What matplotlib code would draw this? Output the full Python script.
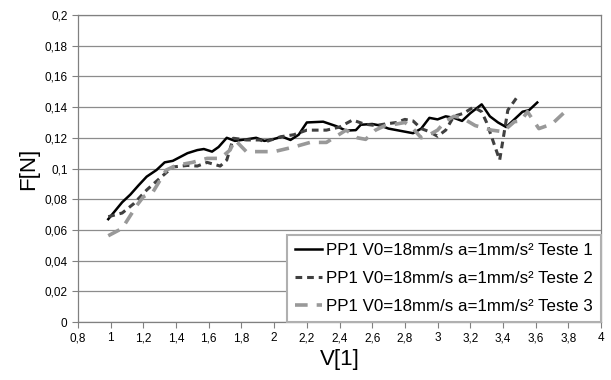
import matplotlib
matplotlib.use("Agg")
import matplotlib.pyplot as plt
from matplotlib.ticker import FuncFormatter, MultipleLocator

plt.rcParams['font.family'] = ['Liberation Sans', 'DejaVu Sans']

# Teste 1 (preto, linha cheia)
v1 = [0.985, 1.07, 1.12, 1.17, 1.22, 1.28, 1.33, 1.38, 1.47, 1.53, 1.57, 1.62, 1.66,
      1.71, 1.76, 1.83, 1.89, 1.94, 1.99, 2.05, 2.10, 2.15, 2.20, 2.30, 2.38, 2.44,
      2.50, 2.53, 2.60, 2.65, 2.70, 2.75, 2.80, 2.85, 2.90, 2.95, 3.00, 3.05, 3.10,
      3.15, 3.20, 3.27, 3.32, 3.37, 3.42, 3.47, 3.52, 3.56, 3.61]
f1 = [0.067, 0.078, 0.083, 0.089, 0.0947, 0.099, 0.104, 0.105, 0.110, 0.112, 0.1127, 0.111, 0.114,
      0.120, 0.118, 0.119, 0.120, 0.118, 0.119, 0.1207, 0.1186, 0.122, 0.130, 0.1305, 0.1276, 0.1247,
      0.125, 0.1285, 0.129, 0.128, 0.126, 0.125, 0.124, 0.123, 0.126, 0.133, 0.132, 0.134, 0.133,
      0.131, 0.136, 0.1418, 0.134, 0.130, 0.127, 0.132, 0.137, 0.138, 0.143]

# Teste 2 (cinza escuro, tracejado)
v2 = [0.985, 1.07, 1.14, 1.22, 1.30, 1.38, 1.47, 1.53, 1.59, 1.67, 1.71, 1.75, 1.83,
      1.91, 1.95, 2.04, 2.12, 2.20, 2.32, 2.40, 2.48, 2.55, 2.62, 2.68, 2.75, 2.80,
      2.85, 2.90, 2.95, 3.00, 3.05, 3.10, 3.16, 3.22, 3.27, 3.30, 3.38, 3.43, 3.49]
f2 = [0.0686, 0.071, 0.077, 0.086, 0.0936, 0.101, 0.102, 0.1016, 0.104, 0.1016, 0.1055, 0.1197, 0.1186,
      0.1186, 0.1175, 0.1207, 0.122, 0.125, 0.125, 0.127, 0.1316, 0.129, 0.128, 0.129, 0.130, 0.132,
      0.131, 0.126, 0.124, 0.121, 0.125, 0.134, 0.136, 0.140, 0.137, 0.130, 0.1055, 0.138, 0.147]

# Teste 3 (cinza claro, tracejado longo)
v3 = [0.985, 1.07, 1.16, 1.20, 1.26, 1.34, 1.40, 1.50, 1.59, 1.67, 1.73, 1.76, 1.83,
      1.95, 2.00, 2.12, 2.22, 2.32, 2.44, 2.51, 2.56, 2.62, 2.68, 2.75, 2.80, 2.85,
      2.90, 2.95, 3.00, 3.05, 3.10, 3.15, 3.23, 3.33, 3.40, 3.47, 3.51, 3.55, 3.62,
      3.70, 3.75, 3.81]
f3 = [0.0562, 0.061, 0.076, 0.0816, 0.085, 0.099, 0.102, 0.104, 0.1066, 0.1066, 0.112, 0.1186, 0.111,
      0.111, 0.111, 0.114, 0.117, 0.117, 0.125, 0.120, 0.119, 0.125, 0.128, 0.129, 0.130, 0.126,
      0.120, 0.122, 0.125, 0.131, 0.134, 0.133, 0.128, 0.125, 0.124, 0.1305, 0.131, 0.137, 0.126,
      0.129, 0.134, 0.140]

labels = ["PP1 V0=18mm/s a=1mm/s² Teste 1",
          "PP1 V0=18mm/s a=1mm/s² Teste 2",
          "PP1 V0=18mm/s a=1mm/s² Teste 3"]

fig = plt.figure(figsize=(6.11, 3.80), dpi=100)
ax = fig.add_axes([0.1277, 0.1526, 0.8559, 0.8079])

ax.plot(v1, f1, color='black', lw=1.8, label=labels[0])
ax.plot(v2, f2, color='#404040', lw=2.2, dashes=(2.2, 1.6), label=labels[1])
ax.plot(v3, f3, color='#999999', lw=2.6, dashes=(3.5, 2.5), label=labels[2])

ax.set_xlim(0.8, 4.0)
ax.set_ylim(0, 0.2)
ax.xaxis.set_major_locator(MultipleLocator(0.2))
ax.yaxis.set_major_locator(MultipleLocator(0.02))

def comma(x, pos):
    s = f"{x:.2f}".rstrip('0').rstrip('.')
    return s.replace('.', ',')

ax.xaxis.set_major_formatter(FuncFormatter(comma))
ax.yaxis.set_major_formatter(FuncFormatter(comma))
ax.tick_params(labelsize=8.5, direction='out', length=4, color='#808080', width=0.8)
ax.grid(axis='y', color='#8c8c8c', lw=0.9)
ax.set_axisbelow(True)
for s in ax.spines.values():
    s.set_color('#808080')
    s.set_linewidth(0.9)

ax.set_xlabel("V[1]", fontsize=16, labelpad=3)
ax.set_ylabel("F[N]", fontsize=16, labelpad=4)

leg = ax.legend(loc='lower right', fontsize=12.2, frameon=True, fancybox=False,
                borderaxespad=0, handlelength=1.6, handletextpad=0.2,
                labelspacing=0.75, borderpad=0.5)
leg.get_frame().set_edgecolor('#b0b0b0')
leg.get_frame().set_linewidth(1.5)
leg.get_frame().set_alpha(1)

fig.savefig("out.png", dpi=100)
